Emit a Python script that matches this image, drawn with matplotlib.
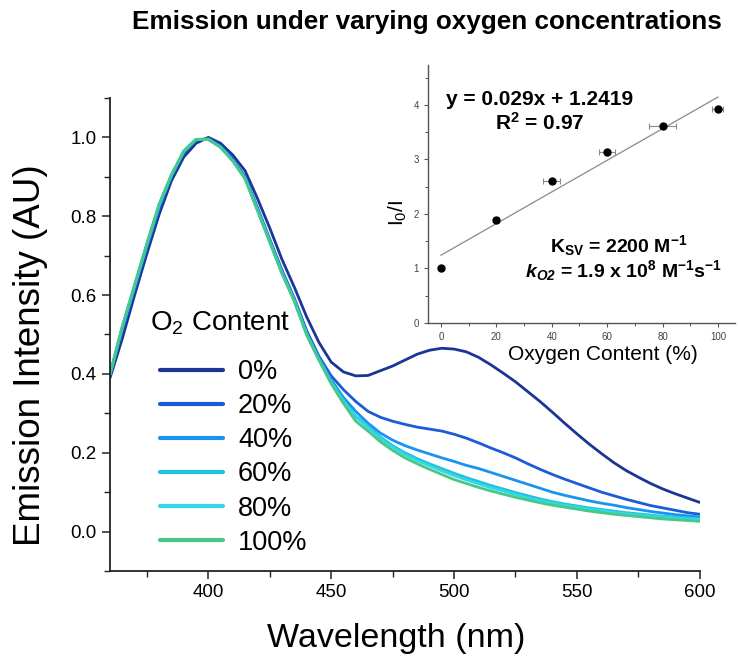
import numpy as np
import matplotlib.pyplot as plt
from matplotlib.ticker import MultipleLocator

plt.rcParams['font.family'] = ['Liberation Sans', 'DejaVu Sans']
plt.rcParams['mathtext.fontset'] = 'custom'
plt.rcParams['mathtext.rm'] = 'Liberation Sans'
plt.rcParams['mathtext.it'] = 'Liberation Sans:italic'
plt.rcParams['mathtext.bf'] = 'Liberation Sans:bold'
plt.rcParams['mathtext.bfit'] = 'Liberation Sans:italic:bold'

# --- Emission spectra (normalised), sampled every 5 nm ---
wavelength = np.arange(360, 601, 5)

em_0 = [0.39, 0.49, 0.60, 0.705, 0.805, 0.89, 0.95, 0.985, 1.0, 0.985,
        0.955, 0.915, 0.845, 0.77, 0.69, 0.62, 0.545, 0.48, 0.43, 0.405,
        0.395, 0.396, 0.408, 0.42, 0.435, 0.45, 0.46, 0.465, 0.463, 0.456,
        0.442, 0.423, 0.402, 0.38, 0.355, 0.33, 0.303, 0.275, 0.248, 0.222,
        0.198, 0.175, 0.155, 0.138, 0.122, 0.108, 0.096, 0.085, 0.074]
em_20 = [0.395, 0.51, 0.615, 0.72, 0.82, 0.90, 0.96, 0.993, 0.997, 0.978,
         0.945, 0.90, 0.822, 0.742, 0.663, 0.592, 0.51, 0.445, 0.395, 0.36,
         0.33, 0.305, 0.29, 0.28, 0.272, 0.265, 0.26, 0.255, 0.247, 0.237,
         0.225, 0.212, 0.20, 0.187, 0.172, 0.158, 0.145, 0.133, 0.122, 0.111,
         0.10, 0.091, 0.082, 0.074, 0.066, 0.06, 0.054, 0.048, 0.044]
em_40 = [0.40, 0.515, 0.62, 0.725, 0.825, 0.903, 0.963, 0.994, 0.996, 0.976,
         0.942, 0.897, 0.818, 0.738, 0.658, 0.588, 0.504, 0.44, 0.385, 0.34,
         0.305, 0.275, 0.25, 0.232, 0.218, 0.207, 0.197, 0.187, 0.178, 0.168,
         0.16, 0.15, 0.14, 0.13, 0.12, 0.11, 0.10, 0.092, 0.085, 0.078,
         0.072, 0.067, 0.061, 0.056, 0.051, 0.047, 0.043, 0.04, 0.037]
em_60 = [0.40, 0.52, 0.625, 0.73, 0.83, 0.905, 0.965, 0.995, 0.995, 0.975,
         0.94, 0.895, 0.815, 0.735, 0.655, 0.585, 0.50, 0.437, 0.38, 0.333,
         0.293, 0.268, 0.24, 0.218, 0.2, 0.185, 0.172, 0.16, 0.148, 0.137,
         0.127, 0.117, 0.108, 0.099, 0.091, 0.083, 0.076, 0.07, 0.065, 0.06,
         0.056, 0.052, 0.048, 0.045, 0.042, 0.039, 0.037, 0.035, 0.033]
em_80 = [0.40, 0.52, 0.625, 0.73, 0.83, 0.905, 0.965, 0.995, 0.995, 0.975,
         0.94, 0.895, 0.815, 0.735, 0.655, 0.585, 0.50, 0.436, 0.378, 0.33,
         0.29, 0.264, 0.236, 0.214, 0.195, 0.18, 0.167, 0.154, 0.142, 0.131,
         0.121, 0.111, 0.103, 0.094, 0.086, 0.079, 0.072, 0.067, 0.062, 0.057,
         0.053, 0.049, 0.045, 0.042, 0.039, 0.037, 0.034, 0.032, 0.031]
em_100 = [0.40, 0.52, 0.625, 0.73, 0.83, 0.905, 0.965, 0.995, 0.995, 0.975,
          0.94, 0.895, 0.815, 0.735, 0.655, 0.585, 0.50, 0.435, 0.375, 0.325,
          0.28, 0.255, 0.228, 0.206, 0.187, 0.172, 0.158, 0.145, 0.132, 0.122,
          0.112, 0.103, 0.095, 0.087, 0.08, 0.073, 0.067, 0.062, 0.057, 0.052,
          0.048, 0.044, 0.041, 0.038, 0.035, 0.032, 0.03, 0.028, 0.026]

labels = ['0%', '20%', '40%', '60%', '80%', '100%']
colors = ['#1b3596', '#1a5cd8', '#1a92f0', '#1fc2e0', '#34d8e4', '#46c887']
spectra = [em_0, em_20, em_40, em_60, em_80, em_100]

# --- Stern-Volmer data ---
o2_content = [0, 20, 40, 60, 80, 100]
i0_over_i = [1.0, 1.88, 2.61, 3.13, 3.61, 3.92]
o2_err = [0, 1, 3, 3, 5, 2]
slope, intercept = 0.029, 1.2419

fig = plt.figure(figsize=(7.39, 6.57), dpi=100)
ax = fig.add_axes([0.1489, 0.1309, 0.798, 0.72])

for y, c, lab in zip(spectra, colors, labels):
    ax.plot(wavelength, y, color=c, lw=2.0, label=lab, solid_capstyle='round')

ax.set_xlim(360, 600)
ax.set_ylim(-0.1, 1.1)
ax.xaxis.set_major_locator(MultipleLocator(50))
ax.xaxis.set_minor_locator(MultipleLocator(25))
ax.yaxis.set_minor_locator(MultipleLocator(0.1))
ax.set_yticks(np.arange(0, 1.01, 0.2))
ax.yaxis.set_major_formatter(plt.FuncFormatter(lambda v, p: f'{v:.1f}'))
ax.spines['top'].set_visible(False)
ax.spines['right'].set_visible(False)
for s in ['left', 'bottom']:
    ax.spines[s].set_linewidth(1.3)
    ax.spines[s].set_color('#222222')
ax.tick_params(which='major', length=6, width=1.1, labelsize=13.5, color='#222222')
ax.tick_params(which='minor', length=4, width=1.0, color='#222222')
ax.set_xlabel('Wavelength (nm)', fontsize=24.5, va='center')
ax.xaxis.set_label_coords(0.485, -0.143)
ax.set_ylabel('Emission Intensity (AU)', fontsize=26.5, va='center')
ax.yaxis.set_label_coords(-0.1356, 0.457)

# legend with a separate heading
fig.text(150 / 739, 1 - 323 / 657, 'O$_2$ Content', fontsize=20, va='center', ha='left')
leg = ax.legend(loc='upper left',
                bbox_to_anchor=(160 / 739, 1 - 359 / 657), bbox_transform=fig.transFigure,
                frameon=False, fontsize=19.5,
                handlelength=2.33, handletextpad=0.55, labelspacing=0.3,
                borderpad=0, borderaxespad=0)
for line in leg.get_lines():
    line.set_linewidth(3)

fig.suptitle('Emission under varying oxygen concentrations', x=0.578, y=0.966,
             va='center', fontsize=18.8, fontweight='bold')

# --- Inset: Stern-Volmer plot ---
ins = fig.add_axes([0.579, 0.5084, 0.415, 0.3927])
fit_x = np.array([0, 100])
ins.plot(fit_x, slope * fit_x + intercept, color='#8a8a8a', lw=0.9)
ins.errorbar(o2_content, i0_over_i, xerr=o2_err, fmt='o', color='black',
             ms=5, ecolor='#8a8a8a', elinewidth=0.8, capsize=2, capthick=0.8)
ins.set_xlim(-4.7, 106)
ins.set_ylim(0, 4.73)
ins.xaxis.set_major_locator(MultipleLocator(20))
ins.xaxis.set_minor_locator(MultipleLocator(10))
ins.yaxis.set_major_locator(MultipleLocator(1))
ins.yaxis.set_minor_locator(MultipleLocator(0.5))
ins.spines['top'].set_visible(False)
ins.spines['right'].set_visible(False)
for s in ['left', 'bottom']:
    ins.spines[s].set_color('#555555')
    ins.spines[s].set_linewidth(1.0)
ins.tick_params(which='major', length=3, width=0.8, labelsize=7, color='#555555',
                labelcolor='#444444')
ins.tick_params(which='minor', length=2, width=0.7, color='#555555')
ins.set_xlabel('Oxygen Content (%)', fontsize=15, va='center')
ins.xaxis.set_label_coords(0.57, -0.124)
ins.set_ylabel('I$_0$/I', fontsize=15, va='center')
ins.yaxis.set_label_coords(-0.098, 0.426)

ins.text(0.365, 0.868, f'y = {slope}x + {intercept}', transform=ins.transAxes,
         ha='center', va='center', fontsize=15, fontweight='bold')
ins.text(0.365, 0.775, 'R$^{\\mathbf{2}}$ = 0.97', transform=ins.transAxes,
         ha='center', va='center', fontsize=15, fontweight='bold')
ins.text(0.622, 0.302, 'K$_{\\mathbf{SV}}$ = 2200 M$^{\\mathbf{-1}}$',
         transform=ins.transAxes, ha='center', va='center', fontsize=14,
         fontweight='bold')
ins.text(0.638, 0.203,
         '$\\mathbfit{k}_{\\mathbfit{O2}}$ = 1.9 x 10$^{\\mathbf{8}}$ M$^{\\mathbf{-1}}$s$^{\\mathbf{-1}}$',
         transform=ins.transAxes, ha='center', va='center', fontsize=14,
         fontweight='bold')

fig.savefig('out.png', dpi=100)
